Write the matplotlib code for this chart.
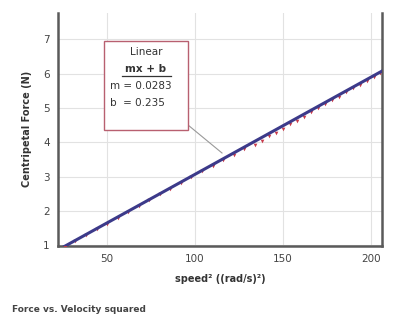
import matplotlib
matplotlib.use("Agg")
import matplotlib.pyplot as plt
import numpy as np

# Data
speed_sq = [26, 32, 38, 44, 50, 56, 62, 68, 74, 80, 86, 92, 98, 104, 110,
            116, 122, 128, 134, 138, 142, 146, 150, 154, 158, 162, 166, 170,
            174, 178, 182, 186, 190, 194, 198, 202, 205]
force = [0.95, 1.12, 1.29, 1.46, 1.63, 1.80, 1.97, 2.14, 2.31, 2.48, 2.65, 2.82,
         2.98, 3.15, 3.32, 3.48, 3.62, 3.79, 3.93, 4.05, 4.17, 4.28, 4.40, 4.52,
         4.63, 4.74, 4.87, 4.99, 5.10, 5.22, 5.33, 5.45, 5.57, 5.68, 5.79, 5.91, 6.02]
fit_m = 0.0283
fit_b = 0.235
x_ticks = [50, 100, 150, 200]
y_ticks = [1, 2, 3, 4, 5, 6, 7]

fig = plt.figure(figsize=(3.93, 3.21), dpi=100)
ax = fig.add_axes([0.148, 0.234, 0.824, 0.726])

ax.set_xlim(22.2, 206.3)
ax.set_ylim(0.98, 7.77)

ax.scatter(speed_sq, force, s=7, marker='v', color='#c83a4a', zorder=3, linewidths=0)
xf = np.array(ax.get_xlim())
ax.plot(xf, fit_m * xf + fit_b, color='#3c3a8a', lw=2.2, zorder=4)

ax.set_xticks(x_ticks)
ax.set_yticks(y_ticks)
ax.grid(True, color='#e2e2e2', lw=0.8)
ax.tick_params(axis='both', length=0, labelsize=7.5, colors='#444444', pad=6)
for s in ['left', 'bottom', 'right']:
    ax.spines[s].set_color('#5a5a5a')
    ax.spines[s].set_linewidth(1.8)
ax.spines['top'].set_visible(False)

ax.set_xlabel('speed² ((rad/s)²)', fontsize=7, color='#333333', fontweight='bold', labelpad=7)
ax.set_ylabel('Centripetal Force (N)', fontsize=7, color='#333333', fontweight='bold', labelpad=8)

# Fit annotation box
box = plt.Rectangle((104 / 393, 1 - 130 / 321), 84 / 393, 89 / 321, transform=fig.transFigure,
                    facecolor='white', edgecolor='#b86070', lw=1.0, zorder=5)
fig.add_artist(box)
fig.add_artist(plt.Line2D([188 / 393, 222 / 393], [1 - 125 / 321, 1 - 153 / 321],
                          transform=fig.transFigure, color='#999999', lw=0.8, zorder=4))
fig.text(146 / 393, 1 - 52 / 321, 'Linear', ha='center', va='center', fontsize=7.5,
         color='#333333', zorder=6)
fig.text(146 / 393, 1 - 69 / 321, 'mx + b', ha='center', va='center', fontsize=7.5,
         fontweight='bold', color='#333333', zorder=6)
fig.add_artist(plt.Line2D([122 / 393, 171 / 393], [1 - 76 / 321, 1 - 76 / 321],
                          transform=fig.transFigure, color='#333333', lw=0.9, zorder=6))
fig.text(110 / 393, 1 - 86 / 321, f'm = {fit_m}', ha='left', va='center', fontsize=7.5,
         color='#333333', zorder=6)
fig.text(110 / 393, 1 - 103 / 321, f'b  = {fit_b}', ha='left', va='center', fontsize=7.5,
         color='#333333', zorder=6)

fig.text(12 / 393, 1 - 310 / 321, 'Force vs. Velocity squared', ha='left', va='center',
         fontsize=6.5, fontweight='bold', color='#444444')

fig.savefig('out.png', dpi=100, facecolor='white')
